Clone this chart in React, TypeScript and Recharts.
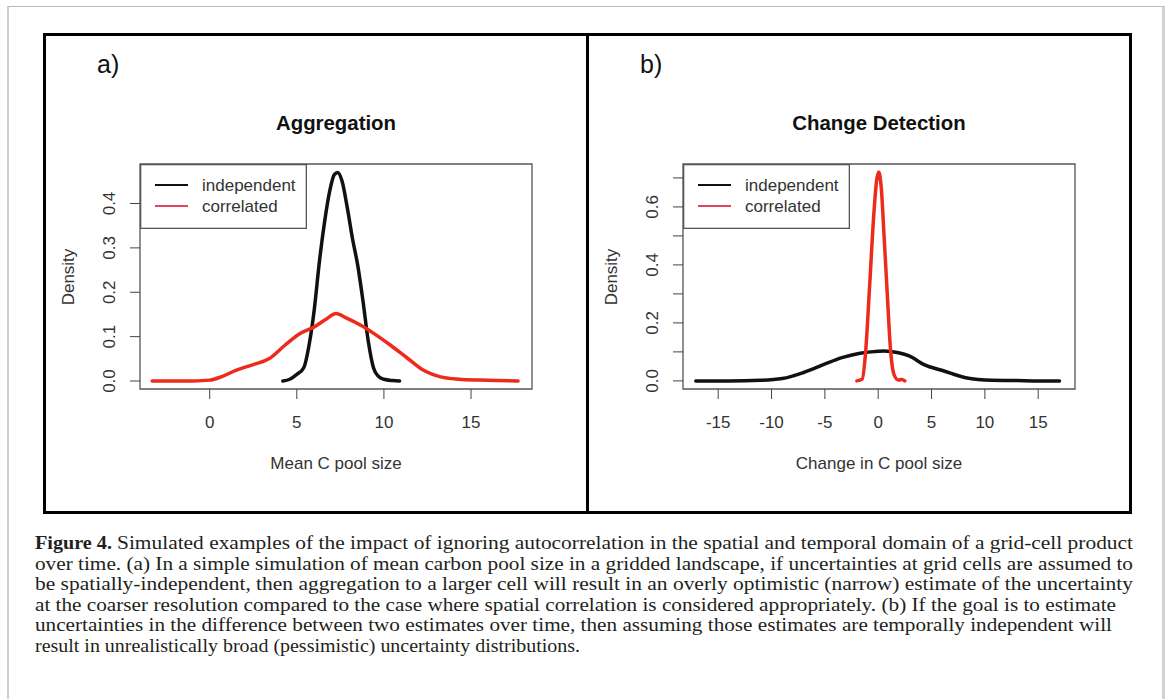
import { LineChart, Line, XAxis, YAxis, ReferenceArea, Legend } from 'recharts';

// panel a) Aggregation – kernel density of mean C pool size
const aggIndepX = [4.2, 4.6, 5.0, 5.4, 5.7, 6.0, 6.3, 6.6, 6.9, 7.15, 7.35, 7.6, 7.9, 8.2, 8.5, 8.8, 9.1, 9.4, 9.7, 10.0, 10.5, 10.9];
const aggIndepY = [0, 0.004, 0.015, 0.03, 0.08, 0.16, 0.27, 0.36, 0.43, 0.465, 0.47, 0.45, 0.39, 0.32, 0.26, 0.18, 0.09, 0.03, 0.01, 0.004, 0.001, 0];
const aggCorrX = [-3.3, -2, -1, 0, 0.7, 1.5, 2.5, 3.4, 4.3, 5.1, 6.0, 6.7, 7.25, 7.8, 8.7, 9.5, 10.4, 11.3, 12.2, 13.2, 14.3, 15.5, 16.6, 17.7];
const aggCorrY = [0, 0, 0.0003, 0.002, 0.01, 0.024, 0.037, 0.05, 0.08, 0.105, 0.122, 0.14, 0.152, 0.143, 0.125, 0.105, 0.08, 0.053, 0.026, 0.01, 0.004, 0.002, 0.001, 0];
const aggXTicks = [0, 5, 10, 15];
const aggYTicks = [0, 0.1, 0.2, 0.3, 0.4];

// panel b) Change Detection – density of change in C pool size
const chgIndepX = [-17.1, -14, -11, -9, -7, -5.2, -3.4, -1.7, 0, 0.5, 1.9, 2.9, 4.3, 6.1, 8.2, 10.7, 13, 15, 17];
const chgIndepY = [0, 0, 0.002, 0.008, 0.029, 0.055, 0.08, 0.095, 0.102, 0.103, 0.097, 0.086, 0.056, 0.035, 0.011, 0.002, 0.001, 0, 0];
const chgCorrX = [-2.0, -1.5, -1.2, -0.8, -0.42, -0.15, 0.05, 0.3, 0.55, 0.85, 1.15, 1.5, 1.9, 2.2, 2.5];
const chgCorrY = [0, 0.006, 0.09, 0.33, 0.57, 0.69, 0.72, 0.66, 0.5, 0.3, 0.11, 0.02, 0.003, 0.005, 0];
const chgXTicks = [-15, -10, -5, 0, 5, 10, 15];
const chgYTicks = [0, 0.1, 0.2, 0.3, 0.4, 0.5, 0.6, 0.7];

const seriesNames = ['independent', 'correlated'];
const seriesColors = ['#111111', '#ee2a1b'];
const legendColors = ['#111111', '#e0475c'];

const captionBold = 'Figure 4.';
const captionLines = [
  'Simulated examples of the impact of ignoring autocorrelation in the spatial and temporal domain of a grid-cell product',
  'over time. (a) In a simple simulation of mean carbon pool size in a gridded landscape, if uncertainties at grid cells are assumed to',
  'be spatially-independent, then aggregation to a larger cell will result in an overly optimistic (narrow) estimate of the uncertainty',
  'at the coarser resolution compared to the case where spatial correlation is considered appropriately. (b) If the goal is to estimate',
  'uncertainties in the difference between two estimates over time, then assuming those estimates are temporally independent will',
  'result in unrealistically broad (pessimistic) uncertainty distributions.',
];
const captionEnds = [1133, 1133, 1133, 1116, 1112, 580];

const toPoints = (xs: number[], ys: number[]) => xs.map((x, i) => ({ x, y: ys[i] }));

const SANS = '"Liberation Sans", Arial, Helvetica, sans-serif';
const W = 540;
const H = 475;
const M = { top: 128, right: 54, bottom: 82, left: 50 };
const Y_W = 44;
const X_H = 40;
const PLOT_L = M.left + Y_W;
const PLOT_W = W - PLOT_L - M.right;
const PLOT_CX = PLOT_L + PLOT_W / 2;

function LegendBox({ payload }: any) {
  const items = [...(payload || [])].sort(
    (a: any, b: any) => seriesNames.indexOf(a.value) - seriesNames.indexOf(b.value)
  );
  return (
    <svg width={167} height={65} style={{ display: 'block' }}>
      <rect x={0.65} y={0.65} width={165.7} height={63.7} fill="#fff" stroke="#555" strokeWidth={1.3} />
      {items.map((p: any, i: number) => (
        <g key={p.value}>
          <line x1={15} x2={48} y1={21 + i * 21} y2={21 + i * 21} stroke={legendColors[i]} strokeWidth={2} />
          <text x={62} y={27 + i * 21} fontSize={17} fontFamily={SANS} fill="#333">
            {p.value}
          </text>
        </g>
      ))}
    </svg>
  );
}

function makeYTick(labelEvery: number) {
  return function YTick({ x, y, payload, index }: any) {
    const show = index % labelEvery === 0;
    return (
      <text
        x={x}
        y={y}
        transform={`rotate(-90 ${x} ${y})`}
        textAnchor="middle"
        fontSize={17}
        fontFamily={SANS}
        fill="#333"
      >
        {show ? Number(payload.value).toFixed(1) : ''}
      </text>
    );
  };
}

type PanelProps = {
  left: number;
  tag: string;
  title: string;
  xLabel: string;
  indep: { x: number; y: number }[];
  corr: { x: number; y: number }[];
  xDomain: [number, number];
  yDomain: [number, number];
  xTicks: number[];
  yTicks: number[];
  labelEvery: number;
};

function Panel(props: PanelProps) {
  const { left, tag, title, xLabel, indep, corr, xDomain, yDomain, xTicks, yTicks, labelEvery } = props;
  return (
    <div style={{ position: 'absolute', left, top: 36, width: W, height: H }}>
      <LineChart width={W} height={H} margin={M}>
        <XAxis
          type="number"
          dataKey="x"
          domain={xDomain}
          ticks={xTicks}
          interval={0}
          height={X_H}
          axisLine={false}
          tickSize={10}
          tickMargin={17}
          stroke="#444"
          tick={{ fill: '#333', fontSize: 17, fontFamily: SANS }}
          allowDataOverflow
        />
        <YAxis
          type="number"
          dataKey="y"
          domain={yDomain}
          ticks={yTicks}
          interval={0}
          width={Y_W}
          axisLine={false}
          tickSize={10}
          tickMargin={15}
          stroke="#444"
          tick={makeYTick(labelEvery)}
          allowDataOverflow
        />
        <ReferenceArea
          x1={xDomain[0]}
          x2={xDomain[1]}
          y1={yDomain[0]}
          y2={yDomain[1]}
          fill="none"
          fillOpacity={0}
          stroke="#555"
          strokeWidth={1.3}
        />
        <Line
          data={indep}
          dataKey="y"
          name={seriesNames[0]}
          type="monotone"
          stroke={seriesColors[0]}
          strokeWidth={3.5}
          strokeLinecap="round"
          strokeLinejoin="round"
          dot={false}
          activeDot={false}
          isAnimationActive={false}
        />
        <Line
          data={corr}
          dataKey="y"
          name={seriesNames[1]}
          type="monotone"
          stroke={seriesColors[1]}
          strokeWidth={3.5}
          strokeLinecap="round"
          strokeLinejoin="round"
          dot={false}
          activeDot={false}
          isAnimationActive={false}
        />
        <Legend
          layout="horizontal"
          verticalAlign="middle"
          align="center"
          content={<LegendBox />}
          wrapperStyle={{ left: PLOT_L, top: M.top, width: 167, height: 65, lineHeight: 0 }}
        />
      </LineChart>
      <svg
        width={W}
        height={H}
        style={{ position: 'absolute', left: 0, top: 0, pointerEvents: 'none' }}
        fontFamily={SANS}
      >
        <text x={51} y={37} fontSize={25} fill="#111">{tag}</text>
        <text x={PLOT_CX} y={94} fontSize={20.4} fontWeight="bold" textAnchor="middle" fill="#111">
          {title}
        </text>
        <text x={28} y={241} transform="rotate(-90 28 241)" fontSize={17} textAnchor="middle" fill="#333">
          Density
        </text>
        <text x={PLOT_CX} y={433} fontSize={17} textAnchor="middle" fill="#333">
          {xLabel}
        </text>
      </svg>
    </div>
  );
}

export default function App() {
  return (
    <div style={{ position: 'absolute', left: 0, top: 0, width: 1167, height: 699, overflow: 'hidden', background: '#fff' }}>
      <div
        style={{
          position: 'absolute',
          left: 7,
          top: 6,
          width: 1158,
          height: 720,
          boxSizing: 'border-box',
          borderTop: '1.5px solid #b8b8b8',
          borderLeft: '2px solid #cfcfcf',
          borderRight: '3px solid #d2d2d2',
        }}
      />
      <div
        style={{
          position: 'absolute',
          left: 43,
          top: 33,
          width: 1089,
          height: 481,
          boxSizing: 'border-box',
          border: '3px solid #000',
        }}
      />
      <div style={{ position: 'absolute', left: 586, top: 33, width: 3, height: 481, background: '#000' }} />
      <Panel
        left={46}
        tag="a)"
        title="Aggregation"
        xLabel="Mean C pool size"
        indep={toPoints(aggIndepX, aggIndepY)}
        corr={toPoints(aggCorrX, aggCorrY)}
        xDomain={[-4.0, 18.5]}
        yDomain={[-0.018, 0.489]}
        xTicks={aggXTicks}
        yTicks={aggYTicks}
        labelEvery={1}
      />
      <Panel
        left={589}
        tag="b)"
        title="Change Detection"
        xLabel="Change in C pool size"
        indep={toPoints(chgIndepX, chgIndepY)}
        corr={toPoints(chgCorrX, chgCorrY)}
        xDomain={[-18.3, 18.45]}
        yDomain={[-0.028, 0.748]}
        xTicks={chgXTicks}
        yTicks={chgYTicks}
        labelEvery={2}
      />
      <svg
        width={1167}
        height={179}
        style={{ position: 'absolute', left: 0, top: 520 }}
        fontFamily='"Liberation Serif", "Times New Roman", serif'
        fontSize={19}
        fill="#231f20"
      >
        {captionLines.map((line, i) => {
          const base = 29 + i * 20.5;
          if (i === 0) {
            return (
              <g key={i}>
                <text x={35} y={base} fontWeight="bold" textLength={77} lengthAdjust="spacingAndGlyphs">
                  {captionBold}
                </text>
                <text x={117} y={base} textLength={captionEnds[0] - 117} lengthAdjust="spacingAndGlyphs">
                  {line}
                </text>
              </g>
            );
          }
          return (
            <text key={i} x={35} y={base} textLength={captionEnds[i] - 35} lengthAdjust="spacingAndGlyphs">
              {line}
            </text>
          );
        })}
      </svg>
    </div>
  );
}
